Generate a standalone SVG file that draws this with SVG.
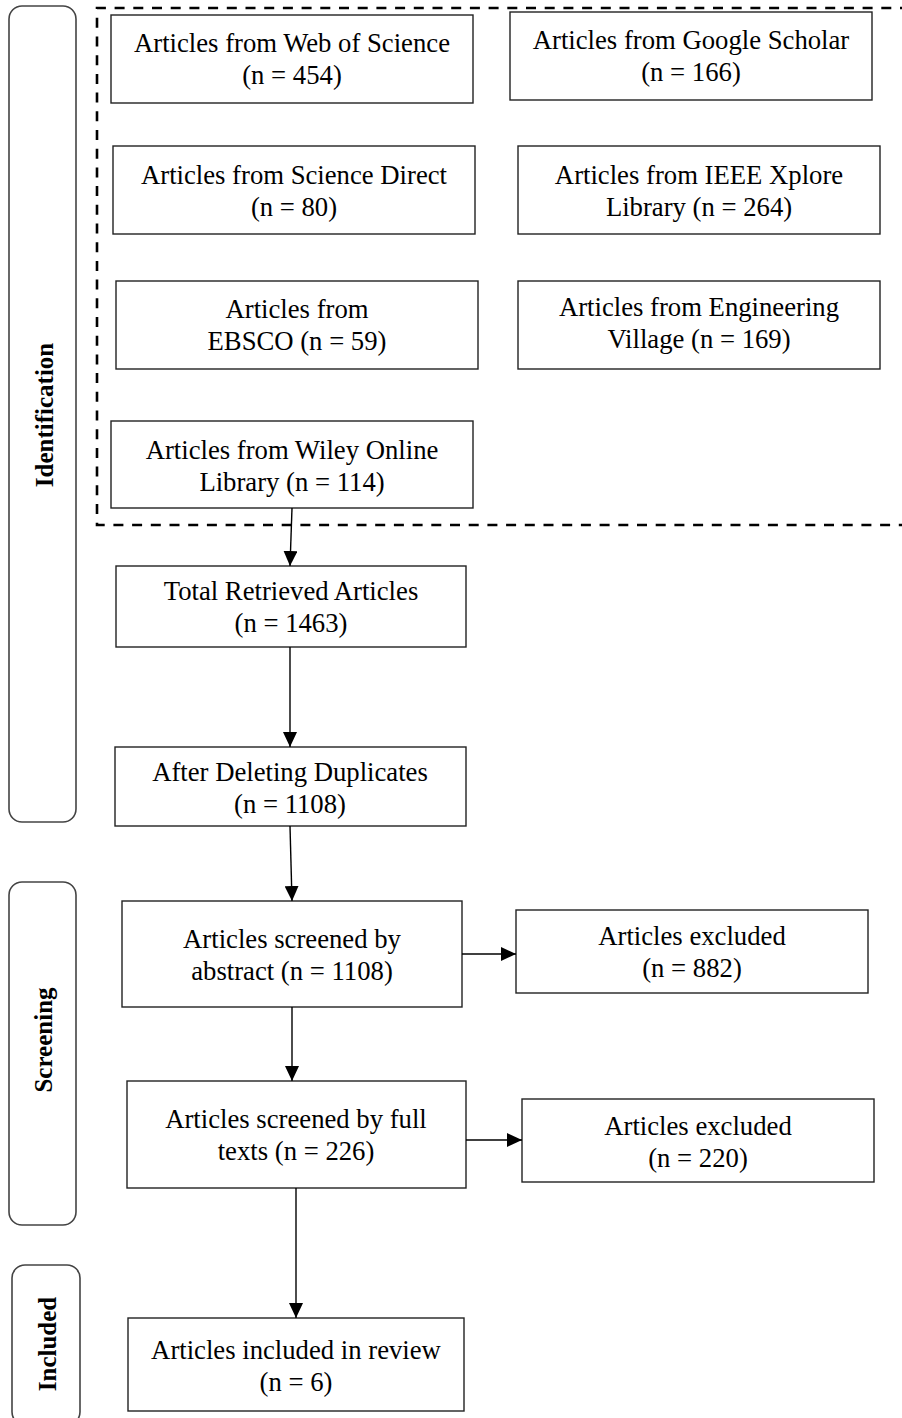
<svg xmlns="http://www.w3.org/2000/svg" width="902" height="1418" viewBox="0 0 902 1418">
<defs>
<marker id="arr" markerUnits="userSpaceOnUse" markerWidth="15" markerHeight="14" refX="15" refY="7" orient="auto">
<path d="M0,0 L15,7 L0,14 Z" fill="#000"/>
</marker>
<style>
.box{fill:#fff;stroke:#222;stroke-width:1.4}
.panel{fill:none;stroke:#444;stroke-width:1.6}
.t{font-family:"Liberation Serif","Times New Roman",serif;font-size:26.7px;fill:#000;text-anchor:middle}
.lab{font-family:"Liberation Serif","Times New Roman",serif;font-size:25px;font-weight:bold;fill:#000;text-anchor:middle}
.con{stroke:#000;stroke-width:1.4;fill:none;marker-end:url(#arr)}
.dash{fill:none;stroke:#000;stroke-width:2.6;stroke-dasharray:10 8.7}
</style>
</defs>
<rect width="902" height="1418" fill="#fff"/>
<g id="frame">
<path class="dash" d="M910,8 L97,8 L97,525 L910,525"/>
</g>
<g id="panel-identification">
<rect class="panel" x="9" y="6" width="67" height="816" rx="13"/>
<text class="lab" transform="translate(53,415) rotate(-90)">Identification</text>
</g>
<g id="panel-screening">
<rect class="panel" x="9" y="882" width="67" height="343" rx="13"/>
<text class="lab" transform="translate(52,1040) rotate(-90)">Screening</text>
</g>
<g id="panel-included">
<rect class="panel" x="12" y="1265" width="68" height="160" rx="13"/>
<text class="lab" transform="translate(56,1344) rotate(-90)">Included</text>
</g>
<g id="n-wos">
<rect class="box" x="111" y="15" width="362" height="88"/>
<text class="t" x="292" y="52">Articles from Web of Science</text>
<text class="t" x="292" y="84">(n = 454)</text>
</g>
<g id="n-scholar">
<rect class="box" x="510" y="12" width="362" height="88"/>
<text class="t" x="691" y="49">Articles from Google Scholar</text>
<text class="t" x="691" y="81">(n = 166)</text>
</g>
<g id="n-sciencedirect">
<rect class="box" x="113" y="146" width="362" height="88"/>
<text class="t" x="294" y="184">Articles from Science Direct</text>
<text class="t" x="294" y="216">(n = 80)</text>
</g>
<g id="n-ieee">
<rect class="box" x="518" y="146" width="362" height="88"/>
<text class="t" x="699" y="184">Articles from IEEE Xplore</text>
<text class="t" x="699" y="216">Library (n = 264)</text>
</g>
<g id="n-ebsco">
<rect class="box" x="116" y="281" width="362" height="88"/>
<text class="t" x="297" y="318">Articles from</text>
<text class="t" x="297" y="350">EBSCO (n = 59)</text>
</g>
<g id="n-engvillage">
<rect class="box" x="518" y="281" width="362" height="88"/>
<text class="t" x="699" y="316">Articles from Engineering</text>
<text class="t" x="699" y="348">Village (n = 169)</text>
</g>
<g id="n-wiley">
<rect class="box" x="111" y="421" width="362" height="87"/>
<text class="t" x="292" y="459">Articles from Wiley Online</text>
<text class="t" x="292" y="491">Library (n = 114)</text>
</g>
<g id="n-total">
<rect class="box" x="116" y="566" width="350" height="81"/>
<text class="t" x="291" y="600">Total Retrieved Articles</text>
<text class="t" x="291" y="632">(n = 1463)</text>
</g>
<g id="n-dedup">
<rect class="box" x="115" y="747" width="351" height="79"/>
<text class="t" x="290" y="781">After Deleting Duplicates</text>
<text class="t" x="290" y="813">(n = 1108)</text>
</g>
<g id="n-abstract">
<rect class="box" x="122" y="901" width="340" height="106"/>
<text class="t" x="292" y="948">Articles screened by</text>
<text class="t" x="292" y="980">abstract (n = 1108)</text>
</g>
<g id="n-excl1">
<rect class="box" x="516" y="910" width="352" height="83"/>
<text class="t" x="692" y="945">Articles excluded</text>
<text class="t" x="692" y="977">(n = 882)</text>
</g>
<g id="n-fulltext">
<rect class="box" x="127" y="1081" width="339" height="107"/>
<text class="t" x="296" y="1128">Articles screened by full</text>
<text class="t" x="296" y="1160">texts (n = 226)</text>
</g>
<g id="n-excl2">
<rect class="box" x="522" y="1099" width="352" height="83"/>
<text class="t" x="698" y="1135">Articles excluded</text>
<text class="t" x="698" y="1167">(n = 220)</text>
</g>
<g id="n-included">
<rect class="box" x="128" y="1318" width="336" height="93"/>
<text class="t" x="296" y="1359">Articles included in review</text>
<text class="t" x="296" y="1391">(n = 6)</text>
</g>
<g id="connectors">
<line class="con" x1="292" y1="508" x2="290" y2="566"/>
<line class="con" x1="290" y1="647" x2="290" y2="747"/>
<line class="con" x1="290" y1="826" x2="292" y2="901"/>
<line class="con" x1="292" y1="1007" x2="292" y2="1081"/>
<line class="con" x1="296" y1="1188" x2="296" y2="1318"/>
<line class="con" x1="462" y1="954" x2="516" y2="954"/>
<line class="con" x1="466" y1="1140" x2="522" y2="1140"/>
</g>
</svg>
